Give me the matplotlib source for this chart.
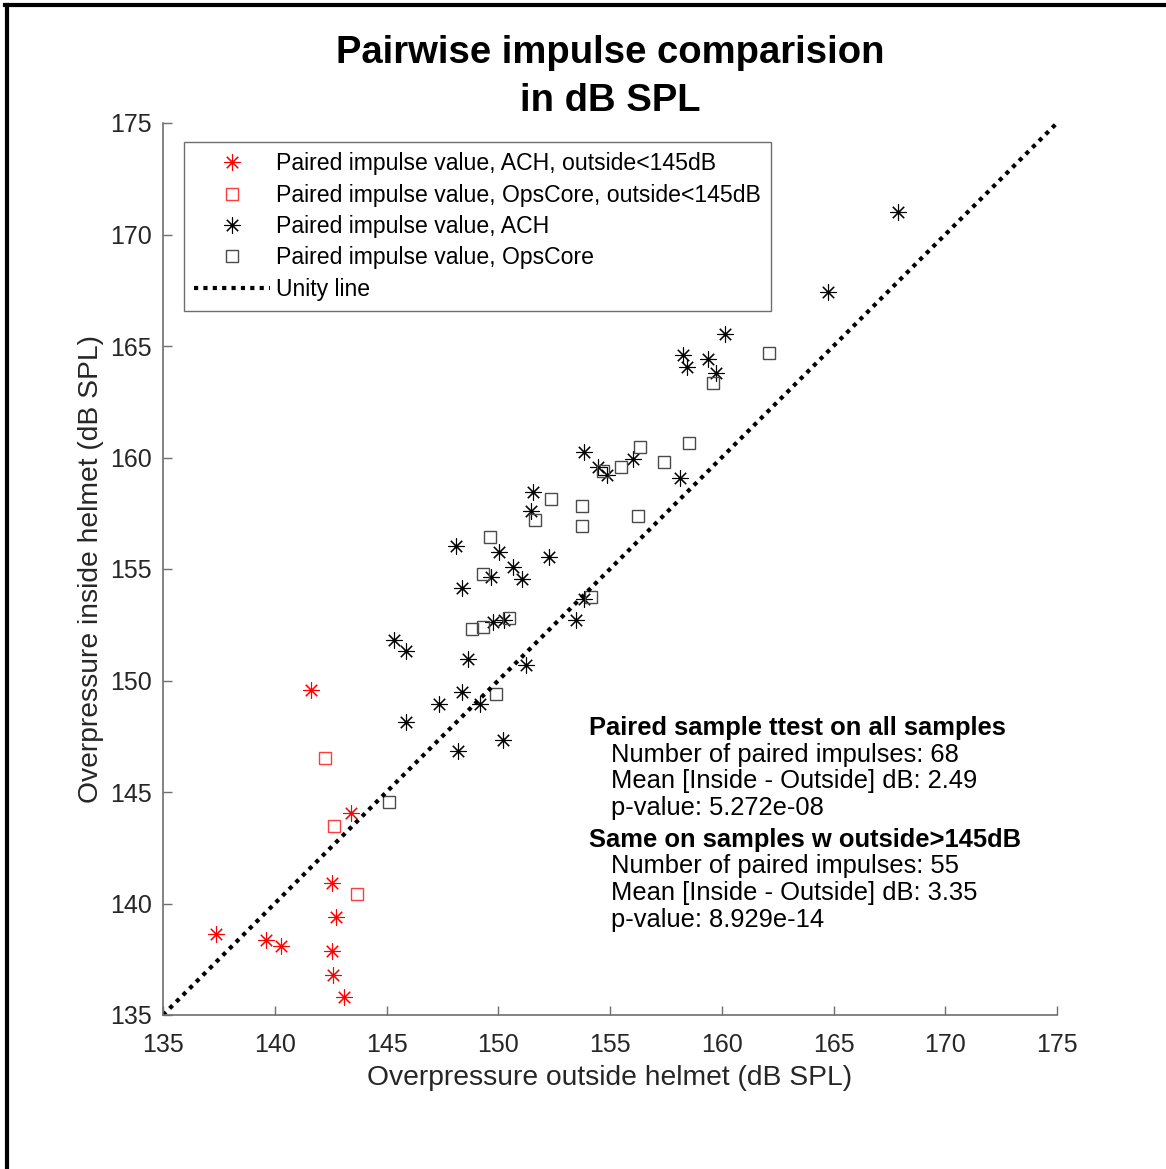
import matplotlib as mpl
import matplotlib.pyplot as plt
from matplotlib.lines import Line2D

mpl.rcParams.update(
    {
        "font.family": ["Liberation Sans", "DejaVu Sans"],
        "font.size": 18,
    }
)

# ACH helmet, outside < 145 dB (red asterisks)
ach_low_out = [141.62, 143.41, 142.56, 142.74, 142.56, 142.61, 143.10, 137.37, 139.61, 140.28]
ach_low_in = [149.57, 144.06, 140.92, 139.39, 137.87, 136.79, 135.81, 138.63, 138.36, 138.09]

# OpsCore helmet, outside < 145 dB (red squares)
ops_low_out = [142.27, 142.65, 143.69]
ops_low_in = [146.52, 143.49, 140.44]

# ACH helmet, all other samples (black asterisks)
ach_out = [145.35, 145.86, 147.35, 145.86, 153.85, 154.45, 154.85, 156.01, 151.57, 151.47,
           148.10, 150.05, 152.26, 150.64, 151.06, 149.68, 148.39, 153.85, 153.50, 149.78,
           150.26, 148.66, 151.22, 148.39, 149.18, 150.23, 148.21, 160.15, 158.25, 158.46,
           159.40, 159.74, 158.13, 167.87, 164.74]
ach_in = [151.82, 151.34, 148.93, 148.15, 160.23, 159.56, 159.22, 159.92, 158.47, 157.60,
          156.05, 155.75, 155.55, 155.10, 154.54, 154.66, 154.13, 153.66, 152.71, 152.64,
          152.71, 150.95, 150.70, 149.47, 148.95, 147.33, 146.85, 165.54, 164.60, 164.07,
          164.40, 163.80, 159.07, 171.02, 167.44]

# OpsCore helmet, all other samples (black squares)
ops_out = [145.10, 156.34, 155.49, 154.67, 152.35, 151.64, 153.76, 153.76, 156.24, 149.65,
           149.33, 154.17, 148.81, 149.30, 150.48, 149.92, 159.59, 162.10, 158.55, 157.40]
ops_in = [144.54, 160.46, 159.56, 159.41, 158.13, 157.20, 157.84, 156.94, 157.39, 156.42,
          154.76, 153.76, 152.29, 152.41, 152.82, 149.39, 163.36, 164.70, 160.64, 159.81]

axis_range = [135, 175]
ticks = [135, 140, 145, 150, 155, 160, 165, 170, 175]

stats_lines = [
    ("Paired sample ttest on all samples", True),
    ("Number of paired impulses: 68", False),
    ("Mean [Inside - Outside] dB: 2.49", False),
    ("p-value: 5.272e-08", False),
    ("Same on samples w outside>145dB", True),
    ("Number of paired impulses: 55", False),
    ("Mean [Inside - Outside] dB: 3.35", False),
    ("p-value: 8.929e-14", False),
]

W, H = 1166, 1169
fig = plt.figure(figsize=(W / 100, H / 100), dpi=100)
ax = fig.add_axes([163 / W, 1 - 1015 / H, (1057 - 163) / W, (1015 - 123) / H])

star = (8, 2, 0)
ax.plot(ach_low_out, ach_low_in, linestyle="none", marker=star, markersize=11.5,
        markeredgewidth=0.8, color="red", label="Paired impulse value, ACH, outside<145dB")
ax.plot(ops_low_out, ops_low_in, linestyle="none", marker="s", markersize=8.8,
        markeredgewidth=1.0, markerfacecolor="none", markeredgecolor="#ff3c3c",
        label="Paired impulse value, OpsCore, outside<145dB")
ax.plot(ach_out, ach_in, linestyle="none", marker=star, markersize=11.5,
        markeredgewidth=0.8, color="black", label="Paired impulse value, ACH")
ax.plot(ops_out, ops_in, linestyle="none", marker="s", markersize=8.8,
        markeredgewidth=1.0, markerfacecolor="none", markeredgecolor="#4a4a4a",
        label="Paired impulse value, OpsCore")
ax.plot(axis_range, axis_range, color="black", linewidth=3.0, linestyle=(0, (1.0, 1.25)),
        dash_capstyle="butt", label="Unity line")

ax.set_xlim(axis_range)
ax.set_ylim(axis_range)
ax.set_xticks(ticks)
ax.set_yticks(ticks)
for side in ("top", "right"):
    ax.spines[side].set_visible(False)
for side in ("left", "bottom"):
    ax.spines[side].set_color("#6e6e6e")
    ax.spines[side].set_linewidth(1.2)
ax.tick_params(axis="both", direction="in", length=6.5, width=1.0, color="#6e6e6e",
               labelcolor="#262626", labelsize=18)
ax.tick_params(axis="x", pad=13)
ax.tick_params(axis="y", pad=8)
ax.set_xlabel("Overpressure outside helmet (dB SPL)", fontsize=20.3, color="#262626", labelpad=6)
ax.set_ylabel("Overpressure inside helmet (dB SPL)", fontsize=20.3, color="#262626", labelpad=4)

fig.text(610 / W, 1 - 53 / H, "Pairwise impulse comparision", ha="center",
         va="center", fontsize=27.5, fontweight="bold")
fig.text(610 / W, 1 - 101 / H, "in dB SPL", ha="center",
         va="center", fontsize=27.5, fontweight="bold")

leg = ax.legend(loc="upper left", bbox_to_anchor=(184 / W, 1 - 142 / H),
                bbox_transform=fig.transFigure, fontsize=16.6, numpoints=1,
                handlelength=3.26, handletextpad=0.26, labelspacing=0.36,
                borderpad=0.45, borderaxespad=0, fancybox=False, framealpha=1)
leg.get_frame().set_edgecolor("#6e6e6e")
leg.get_frame().set_linewidth(1.0)

y = 728
for i, (txt, bold) in enumerate(stats_lines):
    if i == 4:
        y += 5.5
    x = 589 if bold else 611
    fig.text(x / W, 1 - y / H, txt, ha="left", va="center", fontsize=18.4,
             fontweight="bold" if bold else "normal", color="black")
    y += 26.6

# outer frame on the left and top edges
fig.add_artist(Line2D([6.5 / W, 6.5 / W], [0, 1 - 4.5 / H], color="black", linewidth=3,
                      transform=fig.transFigure))
fig.add_artist(Line2D([5 / W, 1], [1 - 4.5 / H, 1 - 4.5 / H], color="black", linewidth=3,
                      transform=fig.transFigure))

fig.savefig("out.png", dpi=100)
